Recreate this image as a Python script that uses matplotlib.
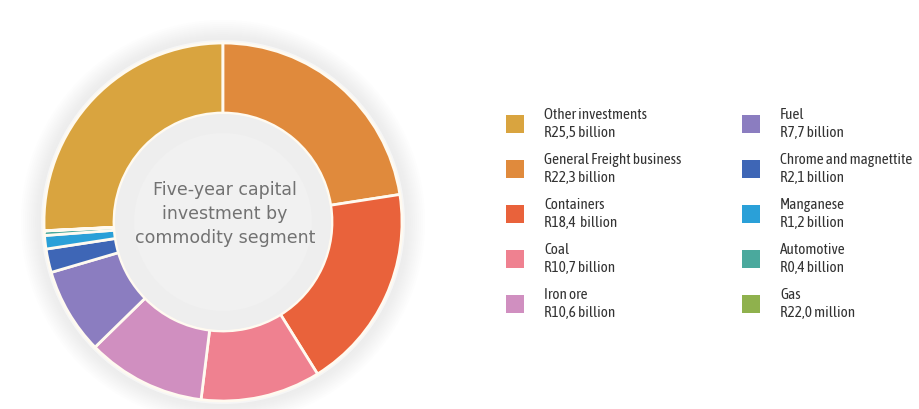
import matplotlib.pyplot as plt
from matplotlib.patches import Circle, Rectangle

segments = ['Other investments', 'General Freight business', 'Containers', 'Coal', 'Iron ore',
            'Fuel', 'Chrome and magnettite', 'Manganese', 'Automotive', 'Gas']
amounts = [25.5, 22.3, 18.4, 10.7, 10.6, 7.7, 2.1, 1.2, 0.4, 0.022]  # R billion
amount_labels = ['R25,5 billion', 'R22,3 billion', 'R18,4  billion', 'R10,7 billion', 'R10,6 billion',
                 'R7,7 billion', 'R2,1 billion', 'R1,2 billion', 'R0,4 billion', 'R22,0 million']
colours = ['#d9a43f', '#e08a3c', '#e9623b', '#ef8190', '#d08fc0',
           '#8b7dc0', '#3e66b6', '#2aa0d8', '#4aa99d', '#8fb14d']

legend_font = ['Asap Condensed', 'DejaVu Sans']

fig = plt.figure(figsize=(9.19, 4.09), dpi=100)
ax = fig.add_axes([0, 0, 1, 1])

cx, cy, r_out, r_in = 223, 187, 179, 109

# faint grey halo behind the ring
for rr in range(202, 180, -2):
    ax.add_patch(Circle((cx, cy), rr, color='#dddddd', alpha=0.05, lw=0, zorder=0))
ax.add_patch(Circle((cx, cy), r_out + 3, color='#f6f6f6', lw=0, zorder=0.5))

start = 90 + 360 * amounts[0] / sum(amounts)
ax.pie(amounts, colors=colours, radius=r_out, center=(cx, cy), startangle=start,
       counterclock=False, frame=True,
       wedgeprops=dict(width=r_out - r_in, edgecolor='#fffaf0', linewidth=2))
ax.set_xlim(0, 919)
ax.set_ylim(0, 409)
ax.set_aspect('equal')
ax.axis('off')

ax.add_patch(Circle((cx, cy), r_in - 1, color='#eeeeee', lw=0, zorder=3))
ax.add_patch(Circle((cx, cy), r_in - 20, color='#f1f1f1', lw=0, zorder=3))
ax.text(cx + 2, cy + 8, 'Five-year capital\ninvestment by\ncommodity segment', ha='center', va='center',
        fontsize=12.5, color='#727272', linespacing=1.45, zorder=4)

# two-column legend
for i, (name, val, col) in enumerate(zip(segments, amount_labels, colours)):
    colx = 506 if i < 5 else 742
    yc = 409 - (124 + 45 * (i % 5))
    ax.add_patch(Rectangle((colx, yc - 9), 18, 18, color=col, lw=0))
    ax.text(colx + 38, yc + 9, name, fontsize=11, family=legend_font, color='#333333', va='center')
    ax.text(colx + 38, yc - 9, val, fontsize=11, family=legend_font, color='#333333', va='center')

fig.savefig('out.png', dpi=100, facecolor='white')
